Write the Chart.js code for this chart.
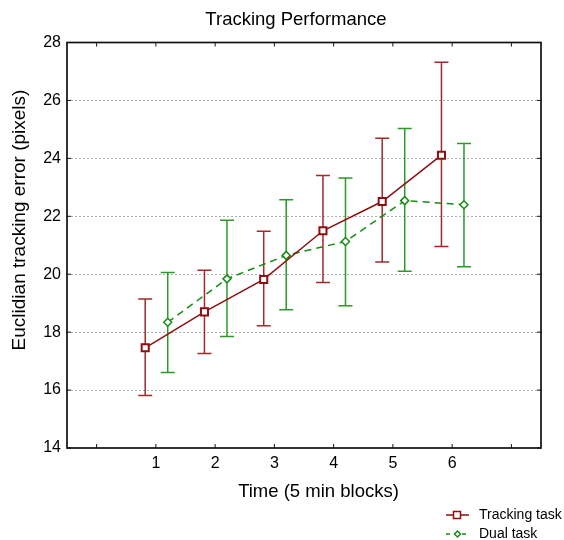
<!DOCTYPE html>
<html>
<head>
<meta charset="utf-8">
<title>Tracking Performance</title>
<script src="https://cdn.jsdelivr.net/npm/chart.js@4.4.1/dist/chart.umd.min.js"></script>
<style>
    html, body { margin: 0; padding: 0; background: #ffffff; }
    #chart { display: block; }
</style>
</head>
<body>
<canvas id="chart" width="564" height="540"></canvas>
<script>
// Values
var blocks = [1, 2, 3, 4, 5, 6];
var tickLabels = ["1", "2", "3", "4", "5", "6"];

var trackingMean  = [17.46, 18.70, 19.82, 21.50, 22.51, 24.11];
var trackingUpper = [19.14, 20.14, 21.48, 23.41, 24.69, 27.32];
var trackingLower = [15.81, 17.26, 18.22, 19.71, 20.42, 20.96];

var dualMean  = [18.34, 19.84, 20.65, 21.13, 22.54, 22.40];
var dualUpper = [20.06, 21.86, 22.57, 23.32, 25.03, 24.51];
var dualLower = [16.61, 17.85, 18.77, 18.91, 20.10, 20.26];

var FONT = "'Liberation Sans', Arial, sans-serif";
var RED = "#8e0f0f";
var RED_BAR = "#a12a2a";
var GREEN = "#178c17";
var GREEN_BAR = "#2b9a2b";

function makePoints(means, shift)
{
    var pts = [];
    for (var i = 0; i < blocks.length; ++i)
    {
        pts.push({x: blocks[i] + shift, y: means[i]});
    }
    return pts;
}

// error bars, drawn under the lines
var errorBars = {
    id: "errorBars",
    beforeDatasetsDraw: function(chart){
        var ctx = chart.ctx;
        var ys = chart.scales.y;
        chart.data.datasets.forEach(function(ds, di){
            var meta = chart.getDatasetMeta(di);
            ctx.save();
            ctx.strokeStyle = ds.barColor;
            ctx.lineWidth = 1.5;
            for (var i = 0; i < meta.data.length; ++i)
            {
                var px = meta.data[i].x;
                var top = ys.getPixelForValue(ds.errUpper[i]);
                var bot = ys.getPixelForValue(ds.errLower[i]);
                ctx.beginPath();
                ctx.moveTo(px, top); ctx.lineTo(px, bot);
                ctx.moveTo(px - 7, top); ctx.lineTo(px + 7, top);
                ctx.moveTo(px - 7, bot); ctx.lineTo(px + 7, bot);
                ctx.stroke();
            }
            ctx.restore();
        });
    }
};

// black frame with inward ticks on all sides, titles, legend
var frame = {
    id: "frame",
    afterDraw: function(chart){
        var ctx = chart.ctx;
        var a = chart.chartArea;
        var xs = chart.scales.x, ys = chart.scales.y;
        ctx.save();
        ctx.strokeStyle = "#111";
        ctx.lineWidth = 1.7;
        ctx.strokeRect(a.left, a.top, a.right - a.left, a.bottom - a.top);
        ctx.lineWidth = 1;
        ctx.beginPath();
        xs.ticks.forEach(function(t){
            var px = xs.getPixelForValue(t.value);
            ctx.moveTo(px, a.top); ctx.lineTo(px, a.top + 4);
            ctx.moveTo(px, a.bottom); ctx.lineTo(px, a.bottom - 4);
        });
        ys.ticks.forEach(function(t){
            var py = ys.getPixelForValue(t.value);
            ctx.moveTo(a.left, py); ctx.lineTo(a.left + 4, py);
            ctx.moveTo(a.right, py); ctx.lineTo(a.right - 4, py);
        });
        ctx.stroke();

        // titles
        ctx.fillStyle = "#000";
        ctx.textAlign = "center";
        ctx.textBaseline = "middle";
        ctx.font = "18.5px " + FONT;
        ctx.fillText("Tracking Performance", 296, 20);
        ctx.fillText("Time (5 min blocks)", 318.5, 492);
        ctx.save();
        ctx.font = "19px " + FONT;
        ctx.translate(20, 220);
        ctx.rotate(-Math.PI / 2);
        ctx.fillText("Euclidian tracking error (pixels)", 0, 0);
        ctx.restore();

        // legend
        ctx.font = "14px " + FONT;
        ctx.textAlign = "left";
        var rows = [[RED, [], 515, "square"], [GREEN, [4, 4], 534, "diamond"]];
        chart.data.datasets.forEach(function(ds, di){
            var r = rows[di];
            ctx.strokeStyle = r[0];
            ctx.lineWidth = 1.5;
            ctx.setLineDash(r[1]);
            ctx.beginPath();
            ctx.moveTo(446, r[2]); ctx.lineTo(469, r[2]);
            ctx.stroke();
            ctx.setLineDash([]);
            ctx.fillStyle = "#fff";
            ctx.beginPath();
            if (r[3] == "square")
            {
                ctx.rect(453.5, r[2] - 3.5, 7, 7);
            }
            else
            {
                ctx.moveTo(457.5, r[2] - 3); ctx.lineTo(460.5, r[2]);
                ctx.lineTo(457.5, r[2] + 3); ctx.lineTo(454.5, r[2]);
                ctx.closePath();
            }
            ctx.fill(); ctx.stroke();
            ctx.fillStyle = "#000";
            ctx.fillText(ds.label, 479, r[2]);
        });
        ctx.restore();
    }
};

var ctx = document.getElementById("chart").getContext("2d");
var chart = new Chart(ctx, {
    type: "scatter",
    data: {
        datasets: [
            {
                label: "Tracking task",
                data: makePoints(trackingMean, -0.18),
                errUpper: trackingUpper,
                errLower: trackingLower,
                barColor: RED_BAR,
                showLine: true,
                borderColor: RED,
                backgroundColor: "#fff",
                borderWidth: 1.5,
                pointStyle: "rect",
                pointRadius: 5,
                pointBorderWidth: 2,
                pointBackgroundColor: "#fff",
                pointBorderColor: RED
            },
            {
                label: "Dual task",
                data: makePoints(dualMean, 0.2),
                errUpper: dualUpper,
                errLower: dualLower,
                barColor: GREEN_BAR,
                showLine: true,
                borderColor: GREEN,
                backgroundColor: "#fff",
                borderWidth: 1.5,
                borderDash: [7, 5],
                pointStyle: "rectRot",
                pointRadius: 4,
                pointBorderWidth: 1.5,
                pointBackgroundColor: "#fff",
                pointBorderColor: GREEN
            }
        ]
    },
    options: {
        responsive: false,
        animation: false,
        devicePixelRatio: 1,
        layout: { padding: { left: 0, right: 23, top: 42.5, bottom: 0 } },
        plugins: {
            legend: { display: false },
            tooltip: { enabled: false },
            title: { display: false }
        },
        scales: {
            x: {
                type: "linear",
                min: -0.5,
                max: 7.5,
                afterBuildTicks: function(scale){
                    scale.ticks = [0, 1, 2, 3, 4, 5, 6, 7].map(function(v){ return {value: v}; });
                },
                afterFit: function(scale){ scale.height = 92; },
                grid: { display: false, drawTicks: false },
                border: { display: false },
                ticks: {
                    color: "#000",
                    padding: 6,
                    maxRotation: 0,
                    font: { family: FONT, size: 16 },
                    callback: function(v){
                        var i = blocks.indexOf(v);
                        return i >= 0 ? tickLabels[i] : "";
                    }
                }
            },
            y: {
                min: 14,
                max: 28,
                afterFit: function(scale){ scale.width = 67; },
                grid: {
                    drawTicks: false,
                    color: function(c){
                        var v = c.tick ? c.tick.value : 0;
                        return (v <= 14 || v >= 28) ? "rgba(0,0,0,0)" : "#b0b0b0";
                    },
                    lineWidth: 1
                },
                border: { display: false, dash: [2, 2] },
                ticks: {
                    stepSize: 2,
                    color: "#000",
                    padding: 6,
                    font: { family: FONT, size: 16 }
                }
            }
        }
    },
    plugins: [errorBars, frame]
});
</script>
</body>
</html>
